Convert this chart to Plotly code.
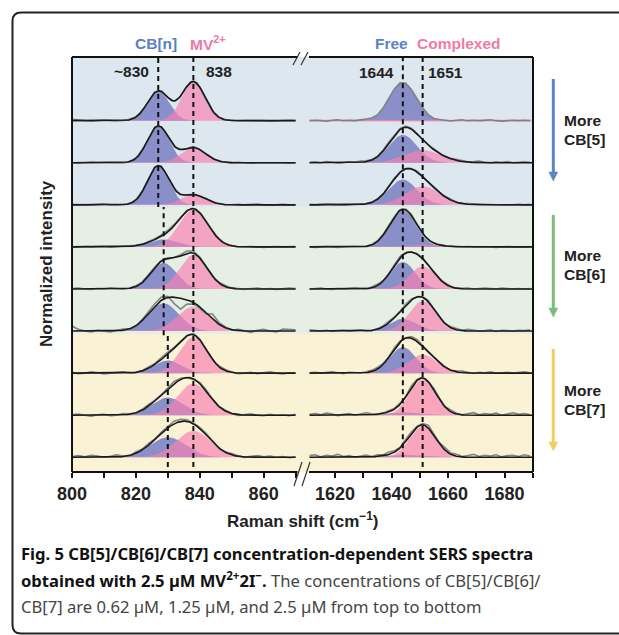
import numpy as np
import plotly.graph_objects as go

# ---------------- data ----------------
# Gaussian components per spectrum (rows top -> bottom). Amplitudes are normalized.
L_blue_center = [827.0, 827.0, 827.0, 828.7, 828.7, 828.7, 830.0, 830.0, 830.0]
L_blue_amp    = [0.70, 0.87, 0.93, 0.18, 0.62, 0.66, 0.30, 0.42, 0.48]
L_blue_sigma  = [3.4, 3.4, 3.4, 4.5, 4.0, 4.8, 4.3, 5.0, 5.5]
L_pink_center = [838.0, 838.0, 838.0, 838.0, 838.0, 838.0, 838.0, 838.0, 838.0]
L_pink_amp    = [0.93, 0.36, 0.24, 0.89, 0.81, 0.58, 0.86, 0.75, 0.63]
L_pink_sigma  = [3.6, 3.8, 3.8, 4.5, 4.3, 5.0, 4.3, 5.0, 5.5]

R_blue_center = [1644.0] * 9
R_blue_amp    = [0.92, 0.66, 0.60, 0.87, 0.64, 0.29, 0.62, 0.07, 0.06]
R_blue_sigma  = [4.6, 5.0, 5.0, 4.6, 4.4, 4.6, 4.6, 6.0, 6.0]
R_pink_center = [1651.0] * 9
R_pink_amp    = [0.0, 0.30, 0.44, 0.05, 0.54, 0.71, 0.44, 0.85, 0.74]
R_pink_sigma  = [5.0, 6.5, 6.0, 6.0, 4.6, 4.8, 5.2, 4.6, 4.6]
R_show_fit    = [False, True, True, True, True, True, True, True, True]

# measured spectra = fit + residual (hundredths), sampled every 2 cm-1
L_grid = list(range(800, 871, 2))      # 36 points
R_grid = list(range(1611, 1690, 2))    # 40 points

resid_L1 = [3,1,0,-1,0,1,0,-1,0,1,0,0,-1,1,2,0,-1,0,1,0,0,-1,0,1,1,0,-1,0,0,1,0,-1,0,0,1,0]
resid_L2 = [0,-1,0,1,0,0,1,0,-1,0,1,0,0,2,1,0,-1,1,0,2,0,-1,0,1,0,0,1,0,-1,0,0,1,1,0,-1,0]
resid_L3 = [1,0,-1,0,1,2,0,-1,0,0,1,1,0,1,2,0,1,-1,0,1,0,1,0,0,-1,0,1,0,1,2,0,-1,0,1,0,0]
resid_L4 = [-1,0,1,0,0,1,-1,0,1,0,1,0,1,2,3,4,3,2,1,0,-1,1,2,1,0,1,-1,0,1,0,-1,0,1,0,0,1]
resid_L5 = [1,2,0,-1,1,0,2,1,-1,0,2,1,3,2,1,-2,0,3,6,5,2,0,-1,2,3,1,0,-1,1,2,0,1,-1,0,2,1]
resid_L6 = [12,4,0,-2,2,0,-2,1,3,0,-2,2,4,6,8,3,-15,-26,-10,-4,-3,-3,12,4,2,-1,3,0,-3,2,4,0,-2,5,4,3]
resid_L7 = [2,-1,0,3,1,-2,0,2,3,0,-1,1,3,2,4,5,2,0,1,3,2,0,-1,2,3,1,-2,0,2,-1,1,3,0,-2,1,0]
resid_L8 = [1,3,0,-2,1,2,-1,0,3,1,-1,2,4,1,0,2,5,3,0,-2,3,4,1,-1,2,0,-2,1,3,0,-1,2,0,1,-1,2]
resid_L9 = [2,4,1,5,3,0,2,5,1,-1,3,2,4,1,3,2,6,5,4,2,3,4,1,-2,0,3,1,-1,2,4,1,3,0,2,-1,1]

resid_R1 = [0,1,0,-1,1,2,0,1,0,1,2,1,0,1,2,1,0,-1,0,1,2,1,0,1,0,-1,1,2,0,1,0,1,2,0,-1,0,1,0,1,0]
resid_R2 = [1,2,0,3,1,-1,0,2,1,3,2,1,0,2,3,1,2,3,2,1,0,1,2,0,-1,1,2,3,1,2,4,1,0,2,1,3,0,1,2,1]
resid_R3 = [1,0,1,2,1,0,-1,0,1,0,1,0,1,0,1,2,1,0,1,2,1,0,-1,0,1,2,0,1,2,3,2,1,0,1,0,-1,0,1,0,1]
resid_R4 = [0,-1,0,1,0,-1,0,1,1,0,-1,0,1,2,1,0,1,2,3,1,0,-1,0,1,0,0,-1,0,1,0,0,1,0,-1,0,1,0,0,1,0]
resid_R5 = [0,1,2,0,-1,1,0,1,2,1,0,2,3,1,0,2,3,1,0,1,2,0,-1,1,2,1,0,1,2,0,1,2,1,0,2,1,0,1,0,1]
resid_R6 = [3,1,0,2,-1,1,2,0,1,3,0,-1,1,2,4,2,1,3,2,0,2,3,1,0,-1,2,3,1,4,2,0,1,3,-1,2,1,0,2,1,3]
resid_R7 = [1,2,0,1,3,1,-1,2,1,0,2,3,4,2,1,3,2,1,4,5,2,0,1,3,1,0,2,4,1,-1,2,1,3,0,1,2,0,1,3,1]
resid_R8 = [2,4,1,5,3,-1,2,4,0,3,5,2,-1,1,4,2,3,1,5,3,2,0,4,3,1,5,2,0,3,6,1,4,2,5,0,3,6,2,4,1]
resid_R9 = [4,6,1,5,3,7,2,4,0,3,5,1,4,2,6,3,1,5,4,2,3,7,4,2,6,3,5,1,4,7,2,5,3,6,1,4,5,2,6,3]

L_resid = [resid_L1, resid_L2, resid_L3, resid_L4, resid_L5, resid_L6, resid_L7, resid_L8, resid_L9]
R_resid = [resid_R1, resid_R2, resid_R3, resid_R4, resid_R5, resid_R6, resid_R7, resid_R8, resid_R9]

# reference lines
left_ref_830 = [827.0, 828.7, 830.0]     # per group (CB[5], CB[6], CB[7])
left_ref_838 = 838.0
right_refs = [1644.0, 1651.0]

x_major_left = [800, 820, 840, 860]
x_minor_left = [810, 830, 850, 870]
x_major_right = [1620, 1640, 1660, 1680]
x_minor_right = [1630, 1650, 1670, 1690]

group_labels = ["CB[5]", "CB[6]", "CB[7]"]

# ---------------- styling ----------------
BG = ["#dce7ef", "#e6efe4", "#faf2d4"]
BLUE_FILL = "rgb(137,143,201)"
PINK_FILL = "rgba(247,128,178,0.68)"
GRAY = "rgba(125,125,125,0.95)"
FONT = "Liberation Sans"
DARK = "#222222"

N = 9
offsets = [N - 1 - i for i in range(N)]

W, H = 619, 635
PL, PR, PT, PB = 72, 533, 57, 472

def xp(px):
    return (px - PL) / (PR - PL)

def yp(py):
    return (PB - py) / (PB - PT)

def gauss(x, a, c, s):
    return a * np.exp(-(x - c) ** 2 / (2 * s * s))

fig = go.Figure()
xfL = np.arange(800, 870.001, 0.25)
xfR = np.arange(1611, 1690.001, 0.25)

def add_fill(xf, g, off, color, xa, line_w=0):
    fig.add_trace(go.Scatter(
        x=np.concatenate([xf, xf[::-1]]),
        y=np.concatenate([off + g, np.full(len(xf), off)]),
        fill="toself", fillcolor=color, mode="lines",
        line=dict(width=line_w, color=color), xaxis=xa, yaxis="y",
        hoverinfo="skip", showlegend=False))

for i in range(N):
    off = offsets[i]
    # left panel
    gb = gauss(xfL, L_blue_amp[i], L_blue_center[i], L_blue_sigma[i])
    gp = gauss(xfL, L_pink_amp[i], L_pink_center[i], L_pink_sigma[i])
    add_fill(xfL, gb, off, BLUE_FILL, "x")
    add_fill(xfL, gp, off, PINK_FILL, "x")
    xg = np.array(L_grid, dtype=float)
    fitg = gauss(xg, L_blue_amp[i], L_blue_center[i], L_blue_sigma[i]) + \
        gauss(xg, L_pink_amp[i], L_pink_center[i], L_pink_sigma[i])
    fig.add_trace(go.Scatter(x=xg, y=off + fitg + np.array(L_resid[i]) / 100.0,
                             mode="lines", line=dict(color=GRAY, width=1.6),
                             xaxis="x", yaxis="y", hoverinfo="skip", showlegend=False))
    fig.add_trace(go.Scatter(x=xfL, y=off + gb + gp, mode="lines",
                             line=dict(color="#1a1a1a", width=1.6),
                             xaxis="x", yaxis="y", hoverinfo="skip", showlegend=False))
    # right panel
    gb = gauss(xfR, R_blue_amp[i], R_blue_center[i], R_blue_sigma[i])
    gp = gauss(xfR, R_pink_amp[i], R_pink_center[i], R_pink_sigma[i])
    add_fill(xfR, gb, off, BLUE_FILL, "x2")
    add_fill(xfR, gp, off, PINK_FILL, "x2", line_w=(1.6 if R_pink_amp[i] == 0 else 0))
    xg = np.array(R_grid, dtype=float)
    fitg = gauss(xg, R_blue_amp[i], R_blue_center[i], R_blue_sigma[i]) + \
        gauss(xg, R_pink_amp[i], R_pink_center[i], R_pink_sigma[i])
    fig.add_trace(go.Scatter(x=xg, y=off + fitg + np.array(R_resid[i]) / 100.0,
                             mode="lines", line=dict(color=GRAY, width=1.6),
                             xaxis="x2", yaxis="y", hoverinfo="skip", showlegend=False))
    if R_show_fit[i]:
        fig.add_trace(go.Scatter(x=xfR, y=off + gb + gp, mode="lines",
                                 line=dict(color="#1a1a1a", width=1.6),
                                 xaxis="x2", yaxis="y", hoverinfo="skip", showlegend=False))

YMIN, YMAX = -0.349, 9.513
shapes = []
# group backgrounds
bounds = [YMAX, offsets[2] - 0.05, offsets[5] - 0.07, YMIN]
for g in range(3):
    shapes.append(dict(type="rect", xref="paper", yref="y", x0=0, x1=1,
                       y0=bounds[g + 1], y1=bounds[g], fillcolor=BG[g],
                       line=dict(width=0), layer="below"))
# dashed reference lines
DASH = "5px,4px"
seg = [(9.49, 5.95), (5.95, 2.9), (2.9, -0.23)]
for g in range(3):
    shapes.append(dict(type="line", xref="x", yref="y", x0=left_ref_830[g], x1=left_ref_830[g],
                       y0=seg[g][1], y1=seg[g][0], line=dict(color="#111", width=2, dash=DASH)))
shapes.append(dict(type="line", xref="x", yref="y", x0=left_ref_838, x1=left_ref_838,
                   y0=-0.23, y1=9.49, line=dict(color="#111", width=2, dash=DASH)))
shapes.append(dict(type="line", xref="x2", yref="y", x0=right_refs[0], x1=right_refs[0],
                   y0=0.0, y1=9.49, line=dict(color="#111", width=2, dash=DASH)))
shapes.append(dict(type="line", xref="x2", yref="y", x0=right_refs[1], x1=right_refs[1],
                   y0=-0.23, y1=9.49, line=dict(color="#111", width=2, dash=DASH)))

# frame
DL = xp(297.5)
DR = xp(309)
fl = dict(color="#111", width=2)
for (a, b) in [(0, DL), (DR, 1)]:
    shapes.append(dict(type="line", xref="paper", yref="paper", x0=a, x1=b, y0=0, y1=0, line=fl))
    shapes.append(dict(type="line", xref="paper", yref="paper", x0=a, x1=b, y0=1, y1=1, line=fl))
shapes.append(dict(type="line", xref="paper", yref="paper", x0=0, x1=0, y0=0, y1=1, line=fl))
shapes.append(dict(type="line", xref="paper", yref="paper", x0=1, x1=1, y0=0, y1=1, line=fl))
# break marks
bl = dict(color="#333", width=1.2)
for (x0, y0, x1, y1) in [(293, 65, 300, 52), (301, 65, 308, 52),
                         (294, 486, 302, 462), (302, 486, 310, 462)]:
    shapes.append(dict(type="line", xref="paper", yref="paper",
                       x0=xp(x0), y0=yp(y0), x1=xp(x1), y1=yp(y1), line=bl))

# outer rounded border
def P(px, py):
    return f"{xp(px):.5f},{yp(py):.5f}"
path = (f"M {P(640, 633.5)} L {P(21, 633.5)} Q {P(12.5, 633.5)} {P(12.5, 625)} "
        f"L {P(12.5, 21)} Q {P(12.5, 12.5)} {P(21, 12.5)} L {P(640, 12.5)}")
shapes.append(dict(type="path", xref="paper", yref="paper", path=path,
                   line=dict(color="#222", width=2)))

# right side arrows
arrow_cols = ["#5a86c5", "#7cbd76", "#f6cd5b"]
arrow_ys = [(79, 181), (215, 317), (349, 451)]
AX = 553.3
for c, (ya, yb) in zip(arrow_cols, arrow_ys):
    shapes.append(dict(type="line", xref="paper", yref="paper", x0=xp(AX), x1=xp(AX),
                       y0=yp(ya), y1=yp(yb - 7), line=dict(color=c, width=3)))
    tri = f"M {P(AX - 4.5, yb - 9)} L {P(AX + 4.5, yb - 9)} L {P(AX, yb)} Z"
    shapes.append(dict(type="path", xref="paper", yref="paper", path=tri,
                       fillcolor=c, line=dict(color=c, width=0.5)))

ann = []
def text(px, py, s, size, color=DARK, xanchor="center", angle=0, family=FONT, weight="bold"):
    ann.append(dict(x=xp(px), y=yp(py), xref="paper", yref="paper", text=s, showarrow=False,
                    xanchor=xanchor, yanchor="middle", textangle=angle, align="left",
                    font=dict(family=family, size=size, color=color, weight=weight)))

text(156, 43, "CB[n]", 15.5, "#5a7fc0")
text(208, 43, "MV<sup>2+</sup>", 15.5, "#ec7aa5")
text(391, 43, "Free", 15.5, "#5b84c4")
text(459, 43, "Complexed", 15.5, "#ef7ba8")
text(131, 71, "~830", 15.5)
text(219, 71, "838", 15.5)
text(376, 72, "1644", 15.5)
text(445, 72, "1651", 15.5)
for lab, yc in zip(group_labels, [129.5, 265, 400]):
    text(562, yc - 9.5, "More", 15.5, xanchor="left")
    text(562, yc + 9.5, lab, 15.5, xanchor="left")
text(46, 264, "Normalized intensity", 17, angle=-90)
text(302, 520, "Raman shift (cm<sup>−1</sup>)", 17)

CAP = "Noto Sans"
CS = 16.6
text(19, 553, "Fig. 5 CB[5]/CB[6]/CB[7] concentration-dependent SERS spectra", CS,
     "#111", xanchor="left", family=CAP)
text(19, 580, "<b>obtained with 2.5 µM MV<sup>2+</sup>2I<sup>−</sup>.</b>"
     "<span style='color:#444'> The concentrations of CB[5]/CB[6]/</span>", CS,
     "#111", xanchor="left", family=CAP, weight="normal")
text(19, 606, "CB[7] are 0.62 µM, 1.25 µM, and 2.5 µM from top to bottom", CS,
     "#444", xanchor="left", family=CAP, weight="normal")

def axis_style(major, minor):
    return dict(tickmode="array", tickvals=major, ticktext=[str(v) for v in major],
                ticks="outside", ticklen=5, tickwidth=1.5, tickcolor="#111",
                showgrid=False, zeroline=False, showline=False,
                tickfont=dict(family=FONT, size=18, color=DARK, weight="bold"),
                minor=dict(tickmode="array", tickvals=minor, ticks="outside", ticklen=5,
                           tickwidth=1.5, tickcolor="#111", showgrid=False))

fig.update_layout(
    width=W, height=H,
    margin=dict(l=PL, r=W - PR, t=PT, b=H - PB),
    paper_bgcolor="white", plot_bgcolor="white",
    showlegend=False,
    xaxis=dict(domain=[0, DL], range=[800, 870.6], anchor="y",
               **axis_style(x_major_left, x_minor_left)),
    xaxis2=dict(domain=[DR, 1], range=[1610.8, 1690.05], anchor="y",
                **axis_style(x_major_right, x_minor_right)),
    yaxis=dict(range=[YMIN, YMAX], showticklabels=False, showgrid=False,
               zeroline=False, ticks=""),
    shapes=shapes, annotations=ann,
)

fig.write_html("out.html")
